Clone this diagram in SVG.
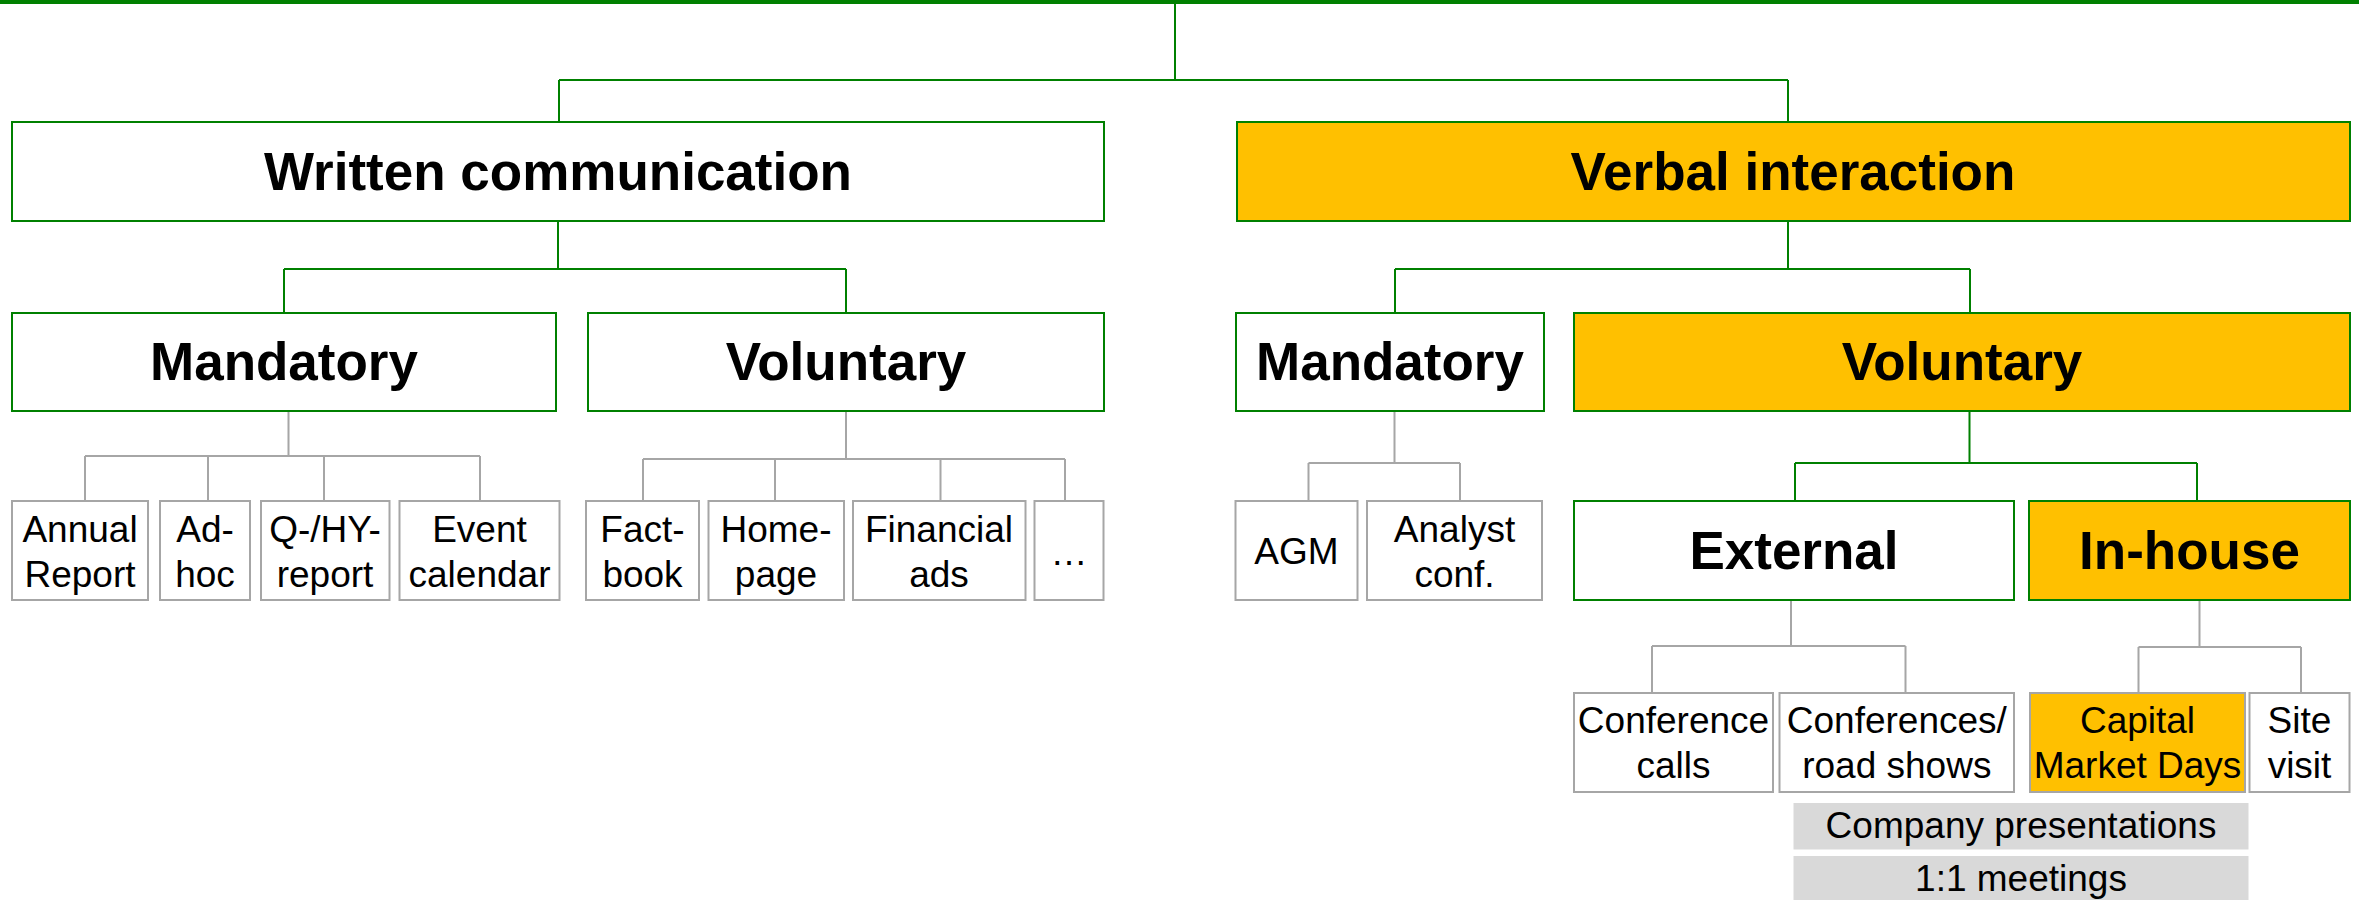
<svg xmlns="http://www.w3.org/2000/svg" width="2359" height="900" viewBox="0 0 2359 900">
<style>
.bg{fill:#ffffff}
.hw{fill:#ffffff;stroke:#008000;stroke-width:2}
.ho{fill:#ffc000;stroke:#008000;stroke-width:2}
.lw{fill:#ffffff;stroke:#a6a6a6;stroke-width:2}
.lo{fill:#ffc000;stroke:#a6a6a6;stroke-width:2}
.gr{fill:#d9d9d9}
.h{font-family:"Liberation Sans",Arial,sans-serif;font-weight:bold;font-size:53px;fill:#000;text-anchor:middle}
.t{font-family:"Liberation Sans",Arial,sans-serif;font-size:37px;fill:#000;text-anchor:middle}
.cg{fill:none;stroke:#008000;stroke-width:2}
.cs{fill:none;stroke:#a6a6a6;stroke-width:2}
</style>
<rect class="bg" x="0" y="0" width="2359" height="900"/>
<rect x="0" y="0" width="2359" height="4" fill="#008000"/>
<g id="connectors">
<path class="cg" d="M1175 3V80M559 80H1788M559 80V122M1788 80V122"/>
<path class="cg" d="M558 221V269M284 269H846M284 269V313M846 269V313"/>
<path class="cg" d="M1788 221V269M1395 269H1970M1395 269V313M1970 269V313"/>
<path class="cg" d="M1969.5 411V463M1795 463H2197M1795 463V501M2197 463V501"/>
<path class="cs" d="M288.5 411V456M85 456H480M85 456V501M208 456V501M324 456V501M480 456V501"/>
<path class="cs" d="M846 411V459M643 459H1065M643 459V501M775 459V501M940.5 459V501M1065 459V501"/>
<path class="cs" d="M1394.5 411V463M1308.5 463H1460M1308.5 463V501M1460 463V501"/>
<path class="cs" d="M1791 600V646M1652 646H1905.5M1652 646V693M1905.5 646V693"/>
<path class="cs" d="M2199.5 600V647M2138.5 647H2301M2138.5 647V693M2301 647V693"/>
</g>
<g id="written"><rect class="hw" x="12" y="122" width="1092" height="99"/><text class="h" x="558" y="190">Written communication</text></g>
<g id="verbal"><rect class="ho" x="1237" y="122" width="1113" height="99"/><text class="h" x="1793" y="190">Verbal interaction</text></g>
<g id="w-mandatory"><rect class="hw" x="12" y="313" width="544" height="98"/><text class="h" x="284" y="380">Mandatory</text></g>
<g id="w-voluntary"><rect class="hw" x="588" y="313" width="516" height="98"/><text class="h" x="846" y="380">Voluntary</text></g>
<g id="v-mandatory"><rect class="hw" x="1236" y="313" width="308" height="98"/><text class="h" x="1390" y="380">Mandatory</text></g>
<g id="v-voluntary"><rect class="ho" x="1574" y="313" width="776" height="98"/><text class="h" x="1962" y="380">Voluntary</text></g>
<g id="external"><rect class="hw" x="1574" y="501" width="440" height="99"/><text class="h" x="1794" y="569">External</text></g>
<g id="inhouse"><rect class="ho" x="2029" y="501" width="321" height="99"/><text class="h" x="2189.5" y="569">In-house</text></g>
<g id="annual"><rect class="lw" x="12" y="501" width="136" height="99"/><text class="t" x="80" y="542">Annual</text><text class="t" x="80" y="587">Report</text></g>
<g id="adhoc"><rect class="lw" x="160" y="501" width="90" height="99"/><text class="t" x="205" y="542">Ad-</text><text class="t" x="205" y="587">hoc</text></g>
<g id="qhy"><rect class="lw" x="261" y="501" width="128.5" height="99"/><text class="t" x="325" y="542">Q-/HY-</text><text class="t" x="325" y="587">report</text></g>
<g id="event"><rect class="lw" x="399.5" y="501" width="160" height="99"/><text class="t" x="479.5" y="542">Event</text><text class="t" x="479.5" y="587">calendar</text></g>
<g id="factbook"><rect class="lw" x="586" y="501" width="113" height="99"/><text class="t" x="642.5" y="542">Fact-</text><text class="t" x="642.5" y="587">book</text></g>
<g id="homepage"><rect class="lw" x="708.5" y="501" width="135.5" height="99"/><text class="t" x="776" y="542">Home-</text><text class="t" x="776" y="587">page</text></g>
<g id="finads"><rect class="lw" x="853" y="501" width="172.5" height="99"/><text class="t" x="939" y="542">Financial</text><text class="t" x="939" y="587">ads</text></g>
<g id="more"><rect class="lw" x="1034.5" y="501" width="69" height="99"/><text class="t" x="1069" y="565">…</text></g>
<g id="agm"><rect class="lw" x="1235.5" y="501" width="122" height="99"/><text class="t" x="1296.5" y="564">AGM</text></g>
<g id="analyst"><rect class="lw" x="1367" y="501" width="175" height="99"/><text class="t" x="1454.5" y="542">Analyst</text><text class="t" x="1454.5" y="587">conf.</text></g>
<g id="confcalls"><rect class="lw" x="1574" y="693" width="199" height="99"/><text class="t" x="1673.5" y="733">Conference</text><text class="t" x="1673.5" y="778">calls</text></g>
<g id="roadshows"><rect class="lw" x="1779.5" y="693" width="234.5" height="99"/><text class="t" x="1896.8" y="733">Conferences/</text><text class="t" x="1896.8" y="778">road shows</text></g>
<g id="cmd"><rect class="lo" x="2030" y="693" width="215" height="99"/><text class="t" x="2137.5" y="733">Capital</text><text class="t" x="2137.5" y="778">Market Days</text></g>
<g id="site"><rect class="lw" x="2249.5" y="693" width="100" height="99"/><text class="t" x="2299.5" y="733">Site</text><text class="t" x="2299.5" y="778">visit</text></g>
<g id="company"><rect class="gr" x="1793.5" y="803" width="455" height="46.5"/><text class="t" x="2021" y="838">Company presentations</text></g>
<g id="meetings"><rect class="gr" x="1793.5" y="856" width="455" height="50"/><text class="t" x="2021" y="891">1:1 meetings</text></g>
</svg>
